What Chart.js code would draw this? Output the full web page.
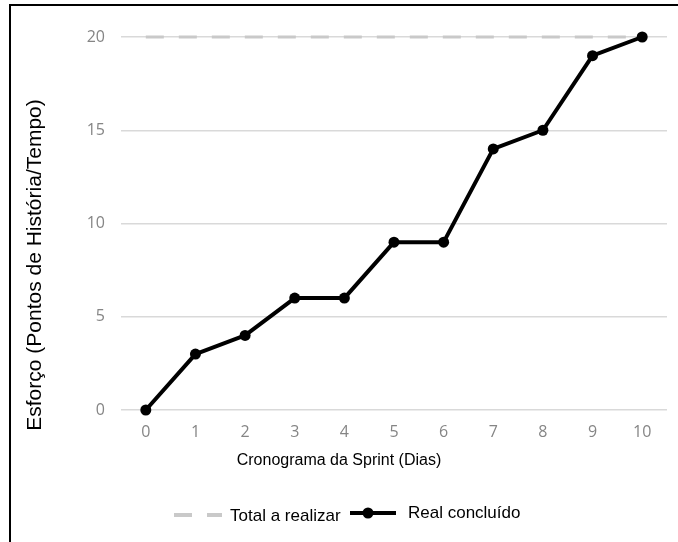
<!DOCTYPE html>
<html>
<head>
<meta charset="utf-8">
<script src="https://cdn.jsdelivr.net/npm/chart.js@4/dist/chart.umd.min.js"></script>
<style>
  html, body { margin: 0; padding: 0; background: #fff; }
  #wrap { position: relative; width: 678px; height: 542px; overflow: hidden; }
  #frame { position: absolute; left: 9px; top: 4px; width: 700px; height: 600px; border: 2px solid #000; box-sizing: border-box; }
  canvas { position: absolute; left: 0; top: 0; }
</style>
</head>
<body>
<div id="wrap">
  <div id="frame"></div>
  <canvas id="chart" width="678" height="542"></canvas>
</div>
<script>
// Sprint days on the horizontal axis
const days = ['0', '1', '2', '3', '4', '5', '6', '7', '8', '9', '10'];
// Planned total of story points for the sprint
const totalPlanned = [20, 20, 20, 20, 20, 20, 20, 20, 20, 20, 20];
// Story points actually completed by the end of each day
const completed = [0, 3, 4, 6, 6, 9, 9, 14, 15, 19, 20];
// Effort ticks
const effortTicks = [0, 5, 10, 15, 20];

const yTitle = 'Esforço (Pontos de História/Tempo)';
const xTitle = 'Cronograma da Sprint (Dias)';
const seriesNames = ['Total a realizar', 'Real concluído'];

const TEXT_FONT = '"Liberation Sans", Arial, sans-serif';
const TICK_FONT = '"Open Sans", sans-serif';

// Axis titles and legend drawn directly on the canvas
const annotations = {
  id: 'annotations',
  afterDraw(chart) {
    const ctx = chart.ctx;
    const dsTotal = chart.data.datasets[0];
    const dsReal = chart.data.datasets[1];
    ctx.save();

    // vertical axis title
    ctx.save();
    ctx.translate(35, 265);
    ctx.rotate(-Math.PI / 2);
    ctx.fillStyle = '#000';
    ctx.font = '21px ' + TEXT_FONT;
    ctx.textAlign = 'center';
    ctx.textBaseline = 'middle';
    ctx.fillText(yTitle, 0, 0);
    ctx.restore();

    // horizontal axis title
    ctx.fillStyle = '#000';
    ctx.font = '16px ' + TEXT_FONT;
    ctx.textAlign = 'center';
    ctx.textBaseline = 'middle';
    ctx.fillText(xTitle, 339, 461);

    // legend: planned total (dashed)
    ctx.strokeStyle = dsTotal.borderColor;
    ctx.lineWidth = 4;
    ctx.lineCap = 'butt';
    ctx.beginPath();
    ctx.moveTo(174, 515); ctx.lineTo(192, 515);
    ctx.moveTo(207, 515); ctx.lineTo(222, 515);
    ctx.stroke();
    ctx.fillStyle = '#000';
    ctx.font = '17px ' + TEXT_FONT;
    ctx.textAlign = 'left';
    ctx.fillText(seriesNames[0], 230, 516);

    // legend: completed (solid with marker)
    ctx.strokeStyle = dsReal.borderColor;
    ctx.lineWidth = 4;
    ctx.beginPath();
    ctx.moveTo(350, 513); ctx.lineTo(396, 513);
    ctx.stroke();
    ctx.fillStyle = dsReal.pointBackgroundColor;
    ctx.beginPath();
    ctx.arc(368, 513, 5.5, 0, Math.PI * 2);
    ctx.fill();
    ctx.fillStyle = '#000';
    ctx.fillText(seriesNames[1], 408, 513);

    ctx.restore();
  }
};

new Chart(document.getElementById('chart'), {
  type: 'line',
  data: {
    labels: days,
    datasets: [
      {
        label: seriesNames[0],
        data: totalPlanned,
        borderColor: '#c9c9c9',
        borderWidth: 3,
        borderDash: [18, 15],
        pointRadius: 0,
        fill: false,
        clip: false,
        order: 2
      },
      {
        label: seriesNames[1],
        data: completed,
        borderColor: '#000000',
        backgroundColor: '#000000',
        borderWidth: 4,
        borderJoinStyle: 'round',
        pointRadius: 5.5,
        pointBackgroundColor: '#000000',
        pointBorderColor: '#000000',
        pointBorderWidth: 0,
        fill: false,
        clip: false,
        tension: 0,
        order: 1
      }
    ]
  },
  options: {
    responsive: false,
    animation: false,
    events: [],
    layout: { padding: { top: 37, right: 11, left: 0, bottom: 0 } },
    plugins: {
      legend: { display: false },
      tooltip: { enabled: false },
      title: { display: false }
    },
    scales: {
      x: {
        type: 'category',
        offset: true,
        grid: { display: false, drawTicks: false },
        border: { display: false },
        ticks: {
          color: '#858585',
          font: { family: TICK_FONT, size: 16 },
          padding: 13,
          maxRotation: 0,
          autoSkip: false
        },
        afterFit(scale) { scale.height = 132; }
      },
      y: {
        min: 0,
        max: 20,
        afterBuildTicks(scale) { scale.ticks = effortTicks.map(v => ({ value: v })); },
        grid: { color: '#d9d9d9', lineWidth: 1.5, drawTicks: false },
        border: { display: false },
        ticks: {
          color: '#858585',
          font: { family: TICK_FONT, size: 16 },
          padding: 16
        },
        afterFit(scale) { scale.width = 121; }
      }
    }
  },
  plugins: [annotations]
});
</script>
</body>
</html>
